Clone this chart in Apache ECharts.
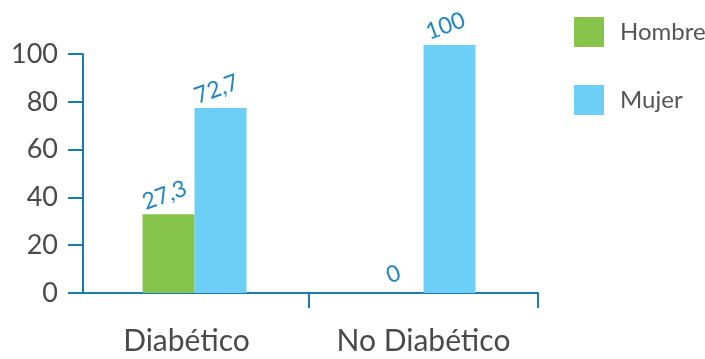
<!DOCTYPE html>
<html><head><meta charset="utf-8">
<script src="https://cdn.jsdelivr.net/npm/echarts@6/dist/echarts.min.js"></script>
<style>html,body{margin:0;padding:0;background:#fff}#c{width:705px;height:359px}</style>
</head><body><div id="c"></div>
<script>
const categories = ["Diabético", "No Diabético"];
const seriesNames = ["Hombre", "Mujer"];
// bar heights as drawn in the picture (axis units)
const hombreValues = [33.0, 0];
const mujerValues = [77.4, 103.8];
// printed labels
const hombreLabels = ["27,3", "0"];
const mujerLabels = ["72,7", "100"];
const yTicks = [0, 20, 40, 60, 80, 100];
const categoryBoundaryTicks = [1, 2];

const axisColor = "#1a7bb4";
const labelColor = "#1f86bf";
const textColor = "#4a4a4a";

const chart = echarts.init(document.getElementById('c'));
chart.setOption({
  animation: false,
  grid: {left: 80, right: 167, top: 54, bottom: 66},
  legend: {
    orient: 'vertical', left: 574, top: 17, padding: 0, itemWidth: 30, itemHeight: 30, itemGap: 38,
    icon: 'rect', data: seriesNames,
    textStyle: {fontFamily: 'Lato', fontSize: 24, color: '#555', padding: [0,0,0,11]}
  },
  xAxis: [{
    type: 'category',
    data: [{value: categories[0], textStyle: {padding: [0, 16, 0, 0]}}, categories[1]],
    axisLine: {lineStyle: {color: axisColor, width: 2}},
    axisTick: {show: false},
    axisLabel: {fontFamily: 'Lato', fontSize: 30, color: textColor, margin: 33}
  }, {
    type: 'value', min: 0, max: 2, interval: 1, position: 'bottom',
    splitLine: {show: false},
    axisLine: {show: false},
    axisLabel: {show: false},
    axisTick: {show: true, length: 15, customValues: categoryBoundaryTicks,
      lineStyle: {color: axisColor, width: 2}}
  }],
  yAxis: {
    type: 'value', min: 0, max: 100, interval: 20, offset: -3,
    splitLine: {show: false},
    axisLine: {show: true, lineStyle: {color: axisColor, width: 2}},
    axisTick: {show: true, length: 15, lineStyle: {color: axisColor, width: 2}},
    axisLabel: {fontFamily: 'Lato', fontSize: 27, color: textColor, margin: 25,
      formatter: function(v){ return yTicks.indexOf(v) >= 0 ? String(v) : ''; }}
  },
  series: [
    {name: seriesNames[0], type: 'bar', data: hombreValues, barWidth: 52, barGap: '0%', clip: false,
     itemStyle: {color: '#86c44c'},
     label: {show: true, position: 'top', rotate: 20, distance: 8, color: labelColor,
       fontFamily: 'Lato', fontSize: 23,
       formatter: function(p){ return hombreLabels[p.dataIndex]; }}},
    {name: seriesNames[1], type: 'bar', data: mujerValues, barWidth: 52, clip: false,
     itemStyle: {color: '#6dcff6'},
     label: {show: true, position: 'top', rotate: 20, distance: 8, color: labelColor,
       fontFamily: 'Lato', fontSize: 23,
       formatter: function(p){ return mujerLabels[p.dataIndex]; }}}
  ]
});
</script></body></html>
